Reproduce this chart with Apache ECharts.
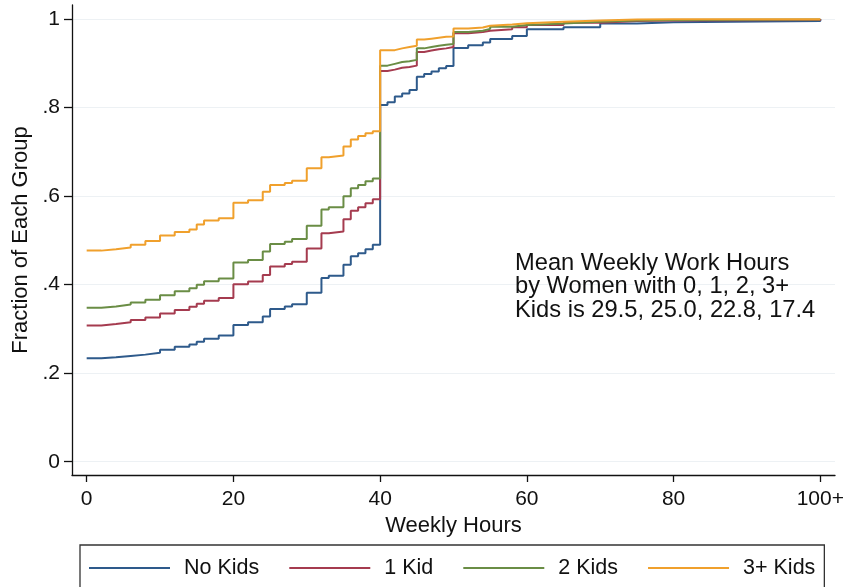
<!DOCTYPE html>
<html>
<head>
<meta charset="utf-8">
<script src="https://cdn.jsdelivr.net/npm/echarts@6/dist/echarts.min.js"></script>
<style>
  html, body { margin: 0; padding: 0; background: #fff; }
  #chart { width: 847px; height: 587px; }
</style>
</head>
<body>
<div id="chart"></div>
<script>
// Weekly hours at which the cumulative fractions change
const hours = [0, 2, 4, 6, 8, 10, 12, 14, 15, 16, 18, 20, 22, 24, 25, 27, 28, 30, 32, 33, 35, 36, 37, 38, 39,
  40, 41, 42, 43, 44, 45, 46, 47, 48, 49, 50, 52, 54, 55, 58, 60, 65, 70, 75, 80, 100];

// Cumulative fraction of women working at most that many hours, by number of kids
const noKids = [.234, .236, .239, .242, .246, .253, .260, .265, .271, .278, .285, .309, .315, .328, .345, .351, .356, .382, .415, .420, .445, .464, .471, .480, .490,
  .806, .812, .825, .832, .840, .870, .876, .882, .889, .894, .935, .941, .947, .955, .962, .977, .982, .990, .993, .996, 1];
const oneKid = [.308, .311, .315, .320, .326, .335, .343, .350, .357, .364, .370, .401, .407, .422, .441, .447, .452, .482, .516, .520, .548, .567, .575, .584, .593,
  .883, .886, .890, .892, .895, .926, .929, .932, .934, .937, .968, .971, .974, .977, .982, .987, .992, .996, .997, .998, 1];
const twoKids = [.348, .351, .355, .360, .366, .376, .385, .392, .400, .408, .414, .450, .456, .475, .492, .497, .503, .533, .570, .575, .600, .618, .625, .634, .640,
  .895, .899, .903, .905, .908, .934, .937, .940, .942, .944, .971, .974, .978, .983, .987, .990, .994, .997, .998, .999, 1];
const threePlusKids = [.477, .480, .484, .490, .499, .511, .519, .525, .536, .545, .550, .585, .591, .610, .625, .630, .635, .663, .688, .692, .712, .728, .736, .742, .747,
  .930, .930, .934, .937, .940, .954, .956, .958, .960, .961, .979, .981, .985, .988, .991, .994, .997, .999, 1, 1, 1];

const seriesNames = ['No Kids', '1 Kid', '2 Kids', '3+ Kids'];
const seriesValues = [noKids, oneKid, twoKids, threePlusKids];
const seriesColors = ['#2e5a8b', '#a53b4f', '#6a8d45', '#f0a02c'];

const xTicks = [0, 20, 40, 60, 80, 100];
const yTicks = [0, 0.2, 0.4, 0.6, 0.8, 1];

const noteLines = [
  'Mean Weekly Work Hours',
  'by Women with 0, 1, 2, 3+',
  'Kids is 29.5, 25.0, 22.8, 17.4'
];

const FONT = '"Liberation Sans", Arial, sans-serif';
const INK = '#111111';

const chart = echarts.init(document.getElementById('chart'), null, { renderer: 'canvas' });

chart.setOption({
  animation: false,
  backgroundColor: '#ffffff',
  textStyle: { fontFamily: FONT, color: INK },
  grid: { left: 72, right: 12, top: 5, bottom: 112, containLabel: false },
  xAxis: {
    type: 'value',
    min: -2,
    max: 102,
    name: 'Weekly Hours',
    nameLocation: 'middle',
    nameGap: 35,
    nameTextStyle: { fontSize: 22, color: INK, fontFamily: FONT },
    axisLine: { show: true, onZero: false, lineStyle: { color: '#111', width: 1.3 } },
    axisTick: { show: true, length: 7, customValues: xTicks, lineStyle: { color: '#111', width: 1.3 } },
    axisLabel: {
      customValues: xTicks,
      fontSize: 21,
      color: INK,
      fontFamily: FONT,
      margin: 14,
      formatter: v => (v === 100 ? '100+' : String(v))
    },
    splitLine: { show: false }
  },
  yAxis: {
    type: 'value',
    min: -0.03,
    max: 1.032,
    name: 'Fraction of Each Group',
    nameLocation: 'middle',
    nameGap: 38,
    nameRotate: 90,
    nameTextStyle: { fontSize: 22, color: INK, fontFamily: FONT },
    axisLine: { show: true, onZero: false, lineStyle: { color: '#111', width: 1.3 } },
    axisTick: { show: true, length: 8, customValues: yTicks, lineStyle: { color: '#111', width: 1.3 } },
    axisLabel: {
      customValues: yTicks,
      fontSize: 21,
      color: INK,
      fontFamily: FONT,
      margin: 12,
      formatter: v => (v === 0 ? '0' : v === 1 ? '1' : String(+v.toFixed(1)).replace('0.', '.'))
    },
    splitLine: { show: true, lineStyle: { color: '#edf1f4', width: 1.2 } }
  },
  legend: {
    left: 80,
    top: 545,
    orient: 'horizontal',
    padding: [10, 9, 10, 9],
    borderColor: '#333',
    borderWidth: 1.3,
    itemWidth: 81,
    itemHeight: 2,
    itemGap: 30,
    icon: 'rect',
    textStyle: { fontSize: 21.5, color: INK, fontFamily: FONT, lineHeight: 26, padding: [0, 0, 0, 9] },
    data: seriesNames
  },
  graphic: [{
    type: 'text',
    left: 515,
    top: 251,
    z: 10,
    silent: true,
    style: {
      text: noteLines.join('\n'),
      font: '23.7px ' + FONT,
      lineHeight: 23.5,
      fill: INK
    }
  }],
  series: seriesNames.map((name, i) => ({
    name,
    type: 'line',
    step: 'end',
    symbol: 'none',
    color: seriesColors[i],
    lineStyle: { width: 2, color: seriesColors[i] },
    data: hours.map((h, j) => [h, seriesValues[i][j]])
  }))
});
</script>
</body>
</html>
